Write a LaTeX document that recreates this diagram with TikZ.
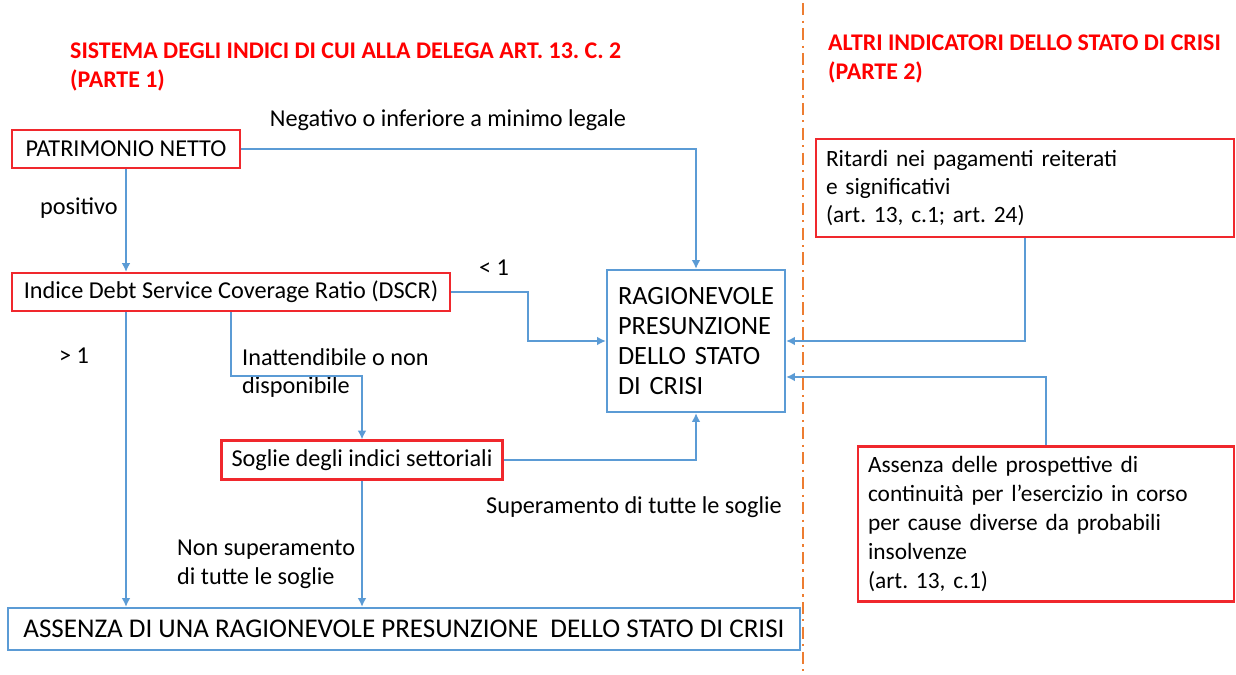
\documentclass[tikz,border=0pt]{standalone}
\usepackage{fontspec}
\setmainfont{Carlito}
\usetikzlibrary{arrows.meta}

\definecolor{lineblue}{RGB}{91,155,213}
\definecolor{boxred}{RGB}{240,40,45}
\definecolor{titlered}{RGB}{255,0,0}
\definecolor{sepor}{RGB}{237,125,49}

\frenchspacing

\begin{document}
\begin{tikzpicture}
	[
	x=0.02cm, y=-0.02cm,
	font=\fontsize{13.8}{16.4}\selectfont,
	redbox/.style={draw=boxred, line width=1.2pt, inner xsep=0.2cm, inner ysep=0pt},
	bluebox/.style={draw=lineblue, line width=1.3pt, inner xsep=0.2cm, inner ysep=0pt},
	title/.style={text=titlered, font=\fontsize{13.6}{16}\selectfont\bfseries, align=left, anchor=west},
	lbl/.style={align=left},
	conn/.style={draw=lineblue, line width=1.2pt, -{Latex[length=5pt,width=5pt]}},
	]
		\useasboundingbox (0,0) rectangle (1236,675);
		
		% separator
		\draw[sepor, line width=1.2pt, dash pattern=on 7pt off 3pt on 1.2pt off 3pt] (803,3) -- (803,675);
		
		% titles
		\node[title] (t1) at 		(  64,  67 ) {SISTEMA DEGLI INDICI DI CUI ALLA DELEGA ART. 13. C. 2\\(PARTE 1)};
		\node[title] (t2) at 		( 822,  59 ) {ALTRI INDICATORI DELLO STATO DI CRISI\\(PARTE 2)};
		
		% left-hand side
		\node[redbox, minimum width=4.56cm, minimum height=0.76cm] (pn) at 		( 126, 149 ) {PATRIMONIO NETTO};
		\node[redbox, minimum width=8.76cm, minimum height=0.76cm] (dscr) at 		( 231, 292 ) {Indice Debt Service Coverage Ratio (DSCR)};
		\node[redbox, minimum width=5.62cm, minimum height=0.78cm] (soglie) at 	( 362, 460 ) {Soglie degli indici settoriali};
		\node[bluebox, minimum width=3.56cm, minimum height=2.84cm, text width=3.12cm, align=left,
			font=\fontsize{15}{17.2}\selectfont] (crisi) at 		( 696, 341 ) {RAGIONEVOLE PRESUNZIONE DELLO STATO DI CRISI};
		\node[bluebox, minimum width=15.84cm, minimum height=0.84cm,
			font=\fontsize{15.4}{18}\selectfont] (assenza) at 		( 404, 629 ) {ASSENZA DI UNA RAGIONEVOLE PRESUNZIONE~ DELLO STATO DI CRISI};
		
		% right-hand side
		\node[redbox, minimum width=8.36cm, minimum height=1.96cm, text width=7.96cm, align=left,
			font=\fontsize{13.3}{15.8}\selectfont] (ritardi) at 	(1025, 188 ) {Ritardi nei pagamenti reiterati\\e significativi\\(art. 13, c.1; art. 24)};
		\node[redbox, minimum width=7.52cm, minimum height=3.1cm, text width=7.12cm, align=left,
			font=\fontsize{13.3}{16.6}\selectfont] (prosp) at 		(1046, 524 ) {Assenza delle prospettive di\\continuità per l’esercizio in corso\\per cause diverse da probabili\\insolvenze\\(art. 13, c.1)};
		
		% labels
		\node[lbl] (lneg) at 		( 448, 120 ) {Negativo o inferiore a minimo legale};
		\node[lbl] (lpos) at 		(  79, 208 ) {positivo};
		\node[lbl] (llt) at 		( 494, 268 ) {< 1};
		\node[lbl] (lgt) at 		(  74, 356 ) {> 1};
		\node[lbl, anchor=west] (lina) at 	( 236, 373 ) {Inattendibile o non\\disponibile};
		\node[lbl] (lsup) at 		( 634, 507 ) {Superamento di tutte le soglie};
		\node[lbl, anchor=west] (lnon) at 	( 171, 564 ) {Non superamento\\di tutte le soglie};
		
		% connectors
		\draw[conn] (pn.east) -| (crisi.north);
		\draw[conn] (pn.south) -- (pn.south |- dscr.north);
		\draw[conn] (dscr.east) -- ++(77,0) |- (crisi.west);
		\draw[conn] (pn.south |- dscr.south) -- (pn.south |- assenza.north);
		\draw[conn] (dscr.south) -- ++(0,64) -| (soglie.north);
		\draw[conn] (soglie.east) -| (crisi.south);
		\draw[conn] (soglie.south) -- (soglie.south |- assenza.north);
		\draw[conn] (ritardi.south) |- (crisi.east);
		\draw[conn] (prosp.north) |- ([yshift=-0.72cm]crisi.east);
		
	\end{tikzpicture}
\end{document}
